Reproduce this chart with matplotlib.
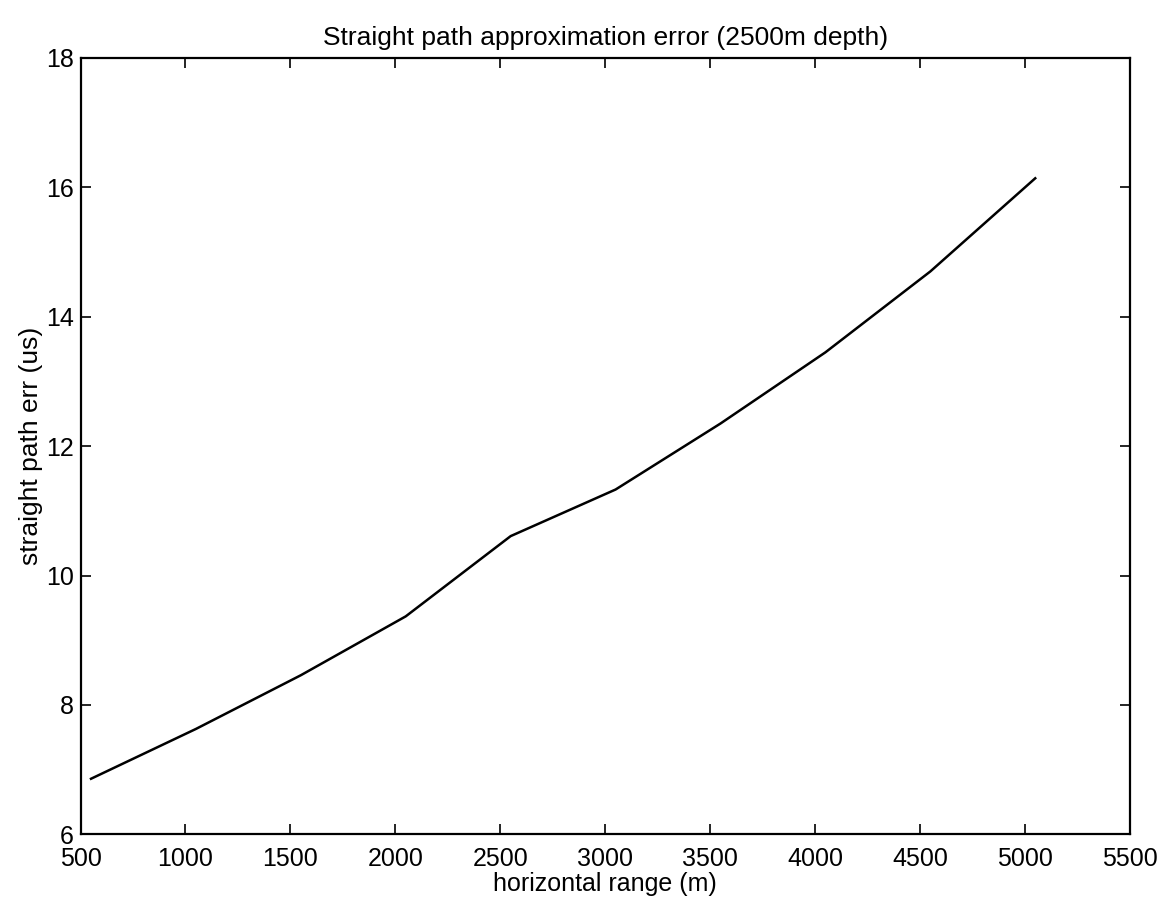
import matplotlib
matplotlib.use('Agg')
import matplotlib.pyplot as plt

# horizontal range (m) and straight path error (us)
horiz_range = [550, 1050, 1550, 2050, 2550, 3050, 3550, 4050, 4550, 5050]
path_err = [6.86, 7.63, 8.46, 9.37, 10.61, 11.33, 12.35, 13.45, 14.70, 16.14]

xticks = [500, 1000, 1500, 2000, 2500, 3000, 3500, 4000, 4500, 5000, 5500]
yticks = [6, 8, 10, 12, 14, 16, 18]

plt.rcParams['font.family'] = ['Liberation Sans', 'DejaVu Sans']

fig = plt.figure(figsize=(11.67, 9.05), dpi=100)
ax = fig.add_axes([0.069, 0.078, 0.899, 0.858])
ax.plot(horiz_range, path_err, color='black', linewidth=1.8)

ax.set_xlim(500, 5500)
ax.set_ylim(6, 18)
ax.set_xticks(xticks)
ax.set_yticks(yticks)
ax.tick_params(direction='in', top=True, right=True, length=7, width=1.2,
               labelsize=18)
ax.tick_params(axis='x', pad=9)
ax.tick_params(axis='y', pad=5)
for s in ax.spines.values():
    s.set_linewidth(1.6)

ax.set_xlabel('horizontal range (m)', fontsize=18, labelpad=1)
ax.set_ylabel('straight path err (us)', fontsize=19, labelpad=2)
ax.set_title('Straight path approximation error (2500m depth)', fontsize=19, pad=9)

fig.savefig('out.png', dpi=100)
